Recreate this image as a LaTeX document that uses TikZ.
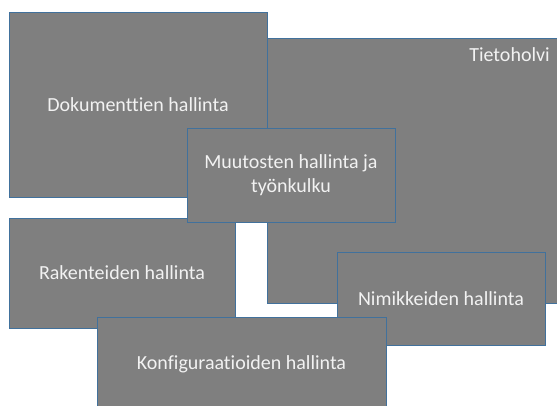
\documentclass[tikz,border=0pt]{standalone}
\usepackage{fontspec}
\setmainfont[Ligatures=NoCommon]{Carlito}
\definecolor{boxgray}{RGB}{127,127,127}
\definecolor{boxedge}{RGB}{65,113,156}
\definecolor{boxtext}{RGB}{242,242,242}
\begin{document}
\begin{tikzpicture}[x=1pt,y=-1pt,
  area/.style={rectangle, fill=boxgray, draw=boxedge, line width=0.9pt,
    inner sep=0pt, outer sep=0pt, text=boxtext, align=center,
    font=\fontsize{20}{24}\selectfont},
  label/.style={text=boxtext, inner sep=0pt, font=\fontsize{20}{24}\selectfont}]
  \useasboundingbox (0,0) rectangle (557,406);
  \clip (0,0) rectangle (557,406);
  % vault in the back, the management areas stacked over it
  \node[area, minimum width=313pt, minimum height=265pt] (vault) at (423.5,170.5) {};
  \node[label, anchor=base east] (vaultlabel) at (550,62) {Tietoholvi};
  \node[area, minimum width=258pt, minimum height=185pt] (docs) at (138,104.5) {Dokumenttien hallinta};
  \node[area, minimum width=226pt, minimum height=110pt] (struct) at (122,273) {Rakenteiden hallinta};
  \node[area, minimum width=208pt, minimum height=93.5pt] (items) at (441,298.75) {Nimikkeiden hallinta};
  \node[area, minimum width=208pt, minimum height=94pt] (change) at (291,175) {Muutosten hallinta ja\\työnkulku};
  \node[area, minimum width=289pt, minimum height=94pt] (config) at (241.5,364) {Konfiguraatioiden hallinta};
\end{tikzpicture}
\end{document}
